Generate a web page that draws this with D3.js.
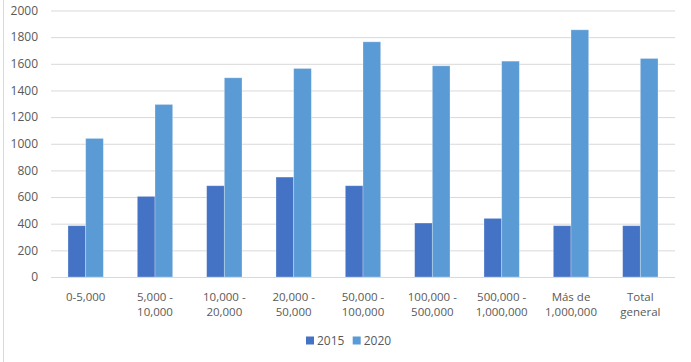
<!DOCTYPE html>
<html><head><meta charset="utf-8">
<script src="https://cdn.jsdelivr.net/npm/d3@7"></script>
<style>html,body{margin:0;padding:0;background:#fff;}svg{display:block;}</style>
</head><body>
<script>
const categories = [["0-5,000"],["5,000 -","10,000"],["10,000 -","20,000"],["20,000 -","50,000"],["50,000 -","100,000"],["100,000 -","500,000"],["500,000 -","1,000,000"],["Más de","1,000,000"],["Total","general"]];
const seriesNames = ["2015","2020"];
const values2015 = [385,605,685,750,685,405,440,385,385];
const values2020 = [1040,1295,1495,1565,1765,1585,1620,1855,1640];
const yTicks = [0,200,400,600,800,1000,1200,1400,1600,1800,2000];
const colors = ["#4472C4","#5B9BD5"];

const W=691,H=362;
const svg=d3.select("body").append("svg").attr("width",W).attr("height",H);
const font="'Open Sans', sans-serif";
svg.append("line").attr("x1",3.5).attr("x2",3.5).attr("y1",0).attr("y2",H).attr("stroke","#d9d9d9");

const x=d3.scaleBand().domain(d3.range(categories.length)).range([51,675]).paddingInner(0).paddingOuter(0);
const y=d3.scaleLinear().domain([0,2000]).range([277,10.5]);

const yAxis=svg.append("g").attr("transform","translate(51,0)")
  .call(d3.axisLeft(y).tickValues(yTicks).tickSize(-(675-51)).tickFormat(d3.format("d")).tickPadding(13));
yAxis.select(".domain").remove();
yAxis.selectAll(".tick line").attr("stroke","#d9d9d9").attr("stroke-width",1);
yAxis.selectAll(".tick text").attr("fill","#595959").style("font-family",font).style("font-size","12px");

const bw=x.bandwidth()*0.255;
const series=[values2015,values2020];
series.forEach((vals,si)=>{
  svg.append("g").selectAll("rect").data(vals).join("rect")
    .attr("x",(d,i)=>x(i)+x.bandwidth()/2-bw+si*bw)
    .attr("y",d=>y(d)).attr("width",bw).attr("height",d=>y(0)-y(d))
    .attr("fill",colors[si]).attr("stroke","rgba(255,255,255,0.35)").attr("stroke-width",0.8);
});
svg.append("line").attr("x1",51).attr("x2",675).attr("y1",y(0)+0.5).attr("y2",y(0)+0.5).attr("stroke","#d9d9d9");

const xl=svg.append("g");
categories.forEach((lines,i)=>{
  lines.forEach((l,j)=>{
    xl.append("text").attr("x",x(i)+x.bandwidth()/2).attr("y",301+15*j)
      .attr("text-anchor","middle").attr("fill","#595959")
      .style("font-family",font).style("font-size","11.5px").text(l);
  });
});

const lg=svg.append("g");
const lx=[306,352.7];
seriesNames.forEach((n,i)=>{
  lg.append("rect").attr("x",lx[i]).attr("y",336.5).attr("width",8).attr("height",8).attr("fill",colors[i]);
  lg.append("text").attr("x",lx[i]+11).attr("y",344.5).attr("fill","#595959").style("font-family",font).style("font-size","12px").text(n);
});
</script>
</body></html>
